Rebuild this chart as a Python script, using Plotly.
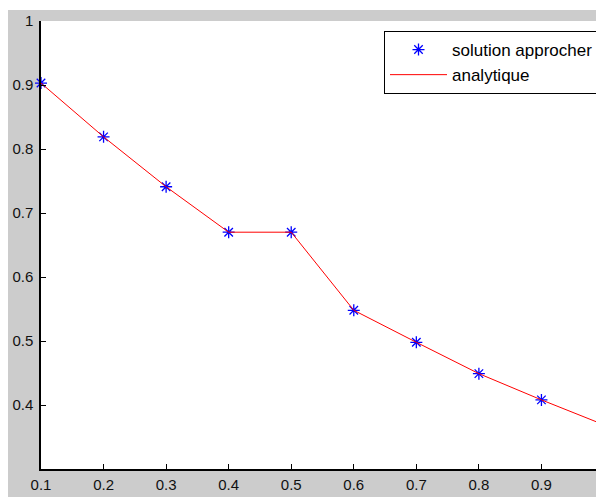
import plotly.graph_objects as go

x_vals = [0.1, 0.2, 0.3, 0.4, 0.5, 0.6, 0.7, 0.8, 0.9, 1.0]
y_approx = [0.903, 0.819, 0.741, 0.670, 0.670, 0.548, 0.498, 0.449, 0.408, 0.369]
y_analytic = [0.903, 0.819, 0.741, 0.670, 0.670, 0.548, 0.498, 0.449, 0.408, 0.369]
x_ticks = [0.1, 0.2, 0.3, 0.4, 0.5, 0.6, 0.7, 0.8, 0.9]
y_ticks = [0.4, 0.5, 0.6, 0.7, 0.8, 0.9, 1.0]
y_ticklabels = ["0.4", "0.5", "0.6", "0.7", "0.8", "0.9", "1"]

# page body has an 8px margin; figure fills the rest of the 604x497 window
W, H = 596, 489
L, R, T, B = 33, 0, 13, 28
PW, PH = W - L - R, H - T - B

def px(xp):
    return (xp - L) / PW

def py(yp):
    return (H - B - yp) / PH

fig = go.Figure()
fig.add_trace(go.Scatter(
    x=x_vals, y=y_approx, mode="markers", name="solution approcher",
    marker=dict(symbol="asterisk-open", size=10, color="#0000FF",
                line=dict(color="#0000FF", width=1.3)),
    cliponaxis=False,
))
fig.add_trace(go.Scatter(
    x=x_vals, y=y_analytic, mode="lines", name="analytique",
    line=dict(color="#FF0000", width=1),
    cliponaxis=False,
))

shapes = [
    dict(type="rect", xref="paper", yref="paper", x0=px(0), x1=px(W), y0=py(2), y1=py(0),
         fillcolor="white", line=dict(width=0), layer="below"),
]

fig.update_layout(
    width=W, height=H,
    margin=dict(l=L, r=R, t=T, b=B, pad=0),
    paper_bgcolor="#CCCCCC",
    plot_bgcolor="white",
    font=dict(family="Liberation Sans, Arial, sans-serif", size=15, color="#111111"),
    showlegend=True,
    legend=dict(
        x=px(376), y=py(23), xanchor="left", yanchor="top",
        bgcolor="white", bordercolor="black", borderwidth=1,
        font=dict(size=17, color="black"),
        itemwidth=57, tracegroupgap=0,
    ),
    shapes=shapes,
    xaxis=dict(
        range=[0.1, 1.0], tickmode="array", tickvals=x_ticks,
        ticktext=[str(v) for v in x_ticks],
        ticks="inside", ticklen=5, tickcolor="black", tickwidth=1,
        showgrid=False, zeroline=False,
        showline=True, linecolor="black", linewidth=1.5, mirror=False,
        tickfont=dict(size=15, color="#111111"),
        ticklabelstandoff=1,
    ),
    yaxis=dict(
        range=[0.3, 1.0], tickmode="array", tickvals=y_ticks, ticktext=y_ticklabels,
        ticks="inside", ticklen=5, tickcolor="black", tickwidth=1,
        showgrid=False, zeroline=False,
        showline=True, linecolor="black", linewidth=1.5, mirror=False,
        tickfont=dict(size=15, color="#111111"),
        ticklabelstandoff=3,
    ),
)

fig.write_html("out.html")
